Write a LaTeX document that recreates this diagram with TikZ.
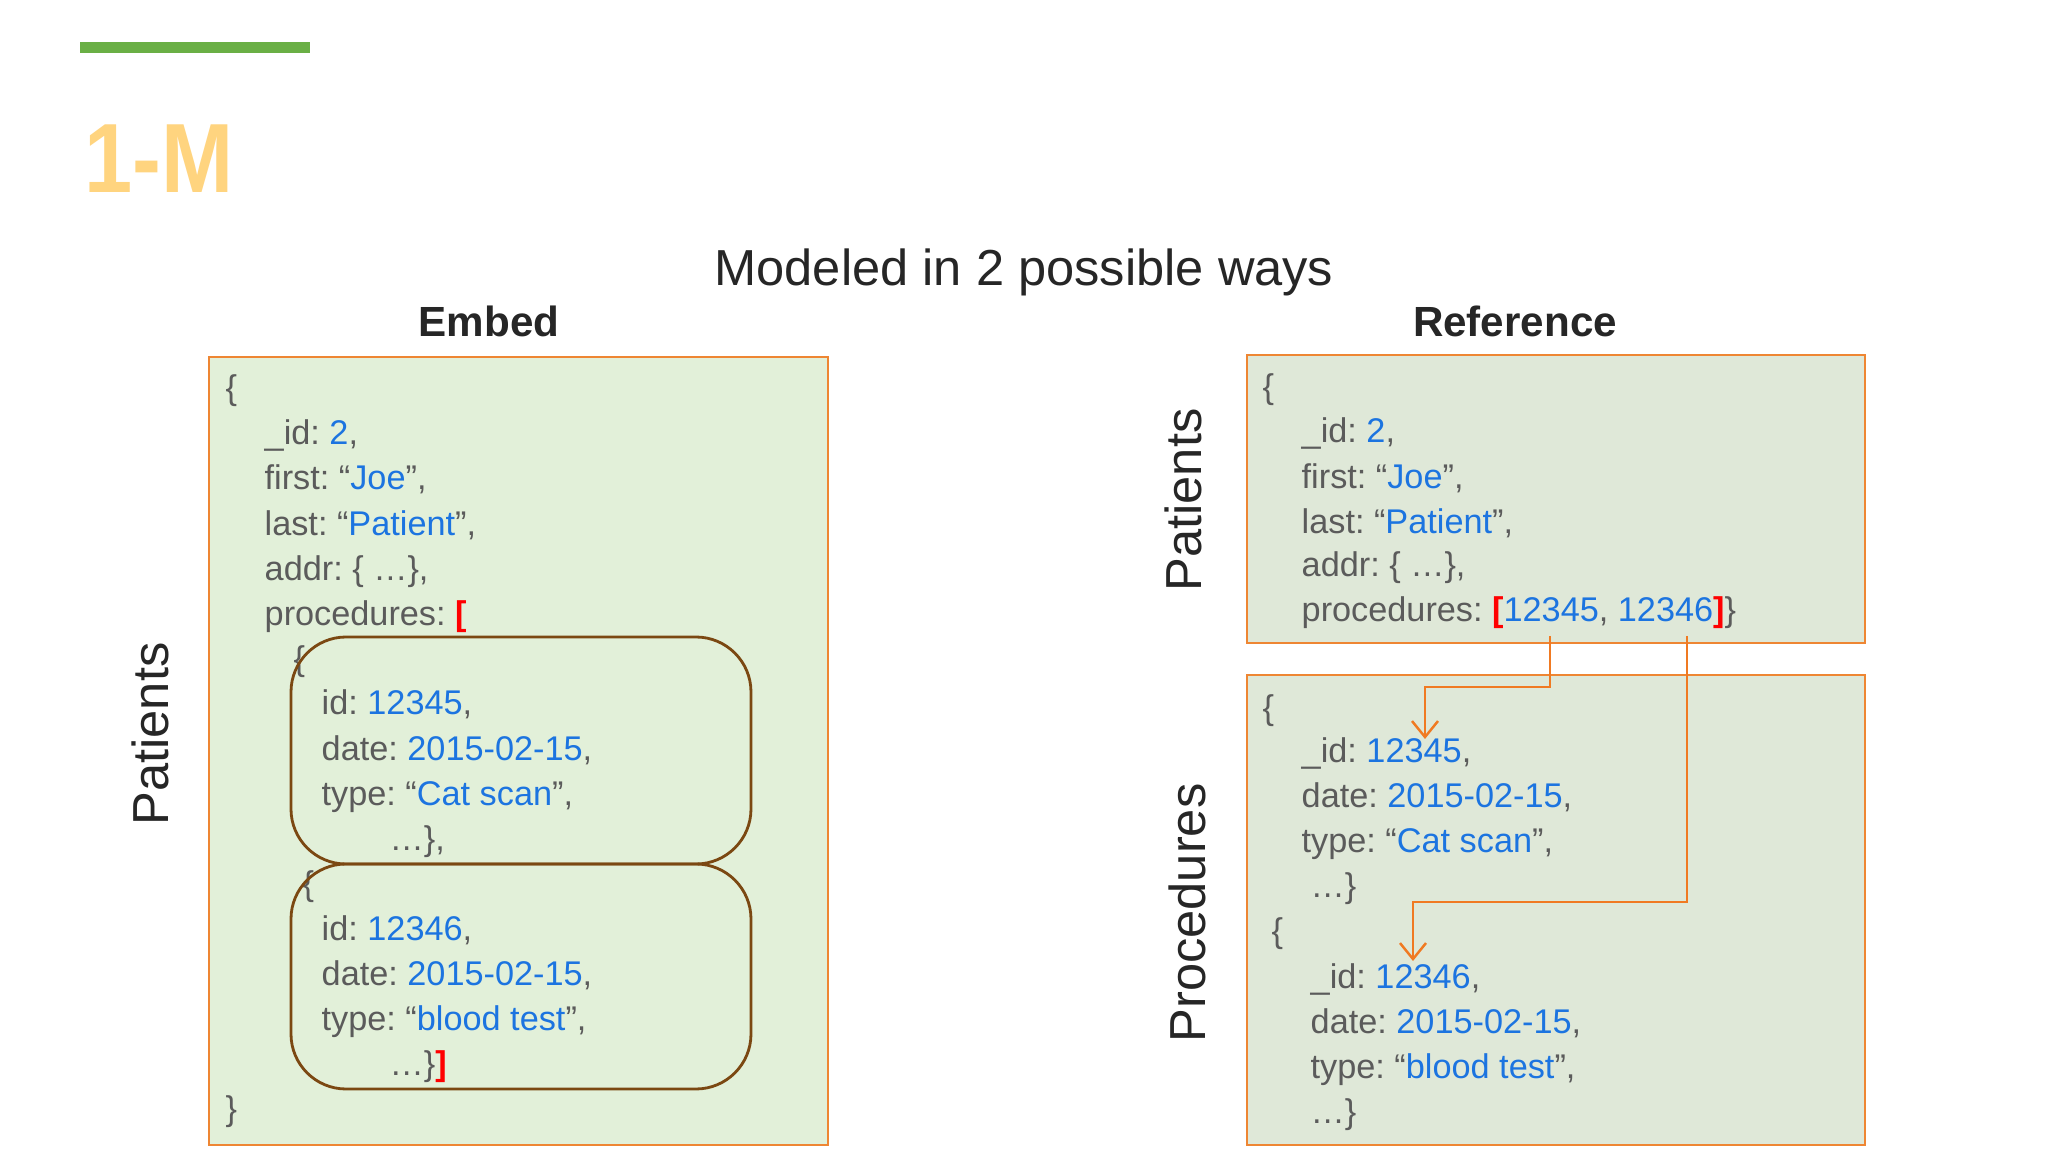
\documentclass[tikz,border=0pt]{standalone}
\usepackage{fontspec}
\setmainfont{Liberation Sans}
\usepackage{xcolor}
\usetikzlibrary{arrows.meta}
\frenchspacing

\definecolor{barGreen}{HTML}{6AAF45}
\definecolor{titleGold}{HTML}{FFD47F}
\definecolor{darkText}{HTML}{262626}
\definecolor{keyGrey}{HTML}{5B5B5B}
\definecolor{valBlue}{HTML}{1C74E0}
\definecolor{brkRed}{HTML}{FF0000}
\definecolor{boxOrange}{HTML}{EE8633}
\definecolor{linkOrange}{HTML}{F07A22}
\definecolor{subBrown}{HTML}{7B4812}
\definecolor{embedFill}{HTML}{E2F0D9}
\definecolor{refFill}{HTML}{DFE8D8}

\newcommand{\val}[1]{\textcolor{valBlue}{#1}}
\newcommand{\brk}[1]{\textcolor{brkRed}{\textbf{#1}}}

\begin{document}
\begin{tikzpicture}[
	code/.style={anchor=base west, inner sep=0pt, text=keyGrey, font=\fontsize{9.75}{12}\selectfont},
	side/.style={rotate=90, inner sep=0pt, text=darkText, font=\fontsize{14.4}{17}\selectfont},
	head/.style={inner sep=0pt, text=darkText, font=\fontsize{12}{14}\selectfont\bfseries},
	docbox/.style={draw=boxOrange, line width=0.8pt},
	subdoc/.style={draw=subBrown, line width=0.8pt, rounded corners=5.5mm},
	link/.style={draw=linkOrange, line width=0.7pt, -{Straight Barb[length=1.6mm, width=2.6mm]}}
]
	\useasboundingbox (0,0) rectangle (20.48,-11.52);
	\fill [white] (0,0) rectangle (20.48,-11.52);

	% slide heading
	\fill [barGreen] (0.80,-0.42) rectangle (3.10,-0.53);
	\node [anchor=base west, inner sep=0pt, text=titleGold, font=\fontsize{28}{32}\selectfont\bfseries] (title) at (0.84,-1.93) {\scalebox{0.88}[1]{1-M}};
	\node [inner sep=0pt, text=darkText, font=\fontsize{14.4}{17}\selectfont] (ways) at (10.24,-2.72) {Modeled in 2 possible ways};
	\node [head] (embed) at (4.89,-3.21) {Embed};
	\node [head] (reference) at (15.15,-3.21) {Reference};

	% embedded
	\draw [docbox, fill=embedFill] (2.09,-3.57) rectangle (8.28,-11.45);
	\node [side] (patL) at (1.50,-7.34) {Patients};

	\node [code] (l0) at (2.25,-4.00) {\{};
	\node [code] (l1) at (2.64,-4.45) {\_id: \val{2},};
	\node [code] (l2) at (2.64,-4.90) {first: “\val{Joe}”,};
	\node [code] (l3) at (2.64,-5.35) {last: “\val{Patient}”,};
	\node [code] (l4) at (2.64,-5.80) {addr: \{ …\},};
	\node [code] (l5) at (2.64,-6.25) {procedures: \brk{[}};
	\node [code] (l6) at (2.93,-6.70) {\{};
	\node [code] (l7) at (3.21,-7.15) {id: \val{12345},};
	\node [code] (l8) at (3.21,-7.60) {date: \val{2015-02-15},};
	\node [code] (l9) at (3.21,-8.05) {type: “\val{Cat scan}”,};
	\node [code] (l10) at (3.89,-8.50) {…\},};
	\node [code] (l11) at (3.02,-8.95) {\{};
	\node [code] (l12) at (3.21,-9.40) {id: \val{12346},};
	\node [code] (l13) at (3.21,-9.85) {date: \val{2015-02-15},};
	\node [code] (l14) at (3.21,-10.30) {type: “\val{blood test}”,};
	\node [code] (l15) at (3.89,-10.75) {…\}\brk{]}};
	\node [code] (l16) at (2.25,-11.20) {\}};

	\draw [subdoc] (2.91,-6.37) rectangle (7.51,-8.64);
	\draw [subdoc] (2.91,-8.64) rectangle (7.51,-10.89);

	% referenced
	\draw [docbox, fill=refFill] (12.47,-3.55) rectangle (18.65,-6.43);
	\draw [docbox, fill=refFill] (12.47,-6.75) rectangle (18.65,-11.45);
	\node [side] (patR) at (11.83,-5.00) {Patients};
	\node [side] (procR) at (11.87,-9.13) {Procedures};

	\node [code] (p0) at (12.62,-3.99) {\{};
	\node [code] (p1) at (13.01,-4.43) {\_id: \val{2},};
	\node [code] (p2) at (13.01,-4.88) {first: “\val{Joe}”,};
	\node [code] (p3) at (13.01,-5.33) {last: “\val{Patient}”,};
	\node [code] (p4) at (13.01,-5.77) {addr: \{ …\},};
	\node [code] (p5) at (13.01,-6.22) {procedures: \brk{[}\val{12345}, \val{12346}\brk{]}\}};

	\node [code] (q0) at (12.62,-7.19) {\{};
	\node [code] (q1) at (13.01,-7.63) {\_id: \val{12345},};
	\node [code] (q2) at (13.01,-8.08) {date: \val{2015-02-15},};
	\node [code] (q3) at (13.01,-8.53) {type: “\val{Cat scan}”,};
	\node [code] (q4) at (13.10,-8.98) {…\}};
	\node [code] (q5) at (12.71,-9.43) {\{};
	\node [code] (q6) at (13.10,-9.88) {\_id: \val{12346},};
	\node [code] (q7) at (13.10,-10.33) {date: \val{2015-02-15},};
	\node [code] (q8) at (13.10,-10.78) {type: “\val{blood test}”,};
	\node [code] (q9) at (13.10,-11.23) {…\}};

	\coordinate (ref1) at (15.50,-6.36);
	\coordinate (ref2) at (16.87,-6.36);
	\coordinate (tgt1) at (14.25,-7.39);
	\coordinate (tgt2) at (14.13,-9.61);
	\draw [link] (ref1) -- ++(0,-0.51) -| (tgt1);
	\draw [link] (ref2) -- ++(0,-2.66) -| (tgt2);
\end{tikzpicture}
\end{document}
